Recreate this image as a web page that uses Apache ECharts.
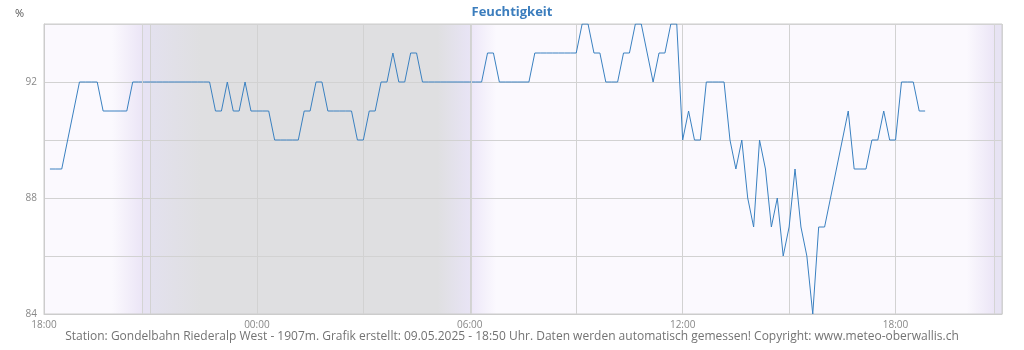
<!DOCTYPE html>
<html><head><meta charset="utf-8">
<script src="https://cdn.jsdelivr.net/npm/echarts@6/dist/echarts.min.js"></script>
<style>html,body{margin:0;padding:0;background:#fff}#c{width:1024px;height:350px}</style>
</head><body><div id="c"></div>
<script>
// ---- data ----
const titleText = 'Feuchtigkeit';
const unitText = '%';
const footerText = 'Station: Gondelbahn Riederalp West - 1907m. Grafik erstellt: 09.05.2025 - 18:50 Uhr. Daten werden automatisch gemessen! Copyright: www.meteo-oberwallis.ch';
// axis: minutes since 08.05.2025 18:00
const axisStartHour = 18;
const axisMinMin = 0, axisMaxMin = 1620; // 18:00 .. 21:00 next day
const sampleStartMin = 10;  // first sample 18:10
const sampleStepMin = 10;   // 10-minute samples
const humidity = [
  89,89,89,90,91,92,92,92,92,91, 91,91,91,91,92,92,92,92,92,92,
  92,92,92,92,92,92,92,92,91,91, 92,91,91,92,91,91,91,91,90,90,
  90,90,90,91,91,92,92,91,91,91, 91,91,90,90,91,91,92,92,93,92,
  92,93,93,92,92,92,92,92,92,92, 92,92,92,92,93,93,92,92,92,92,
  92,92,93,93,93,93,93,93,93,93, 94,94,93,93,92,92,92,93,93,94,
  94,93,92,93,93,94,94,90,91,90, 90,92,92,92,92,90,89,90,88,87,
  90,89,87,88,86,87,89,87,86,84, 87,87,88,89,90,91,89,89,89,90,
  90,91,90,90,92,92,92,91,91
];
const yTickValues = [84, 88, 92];
// background (minutes since 18:00)
const eveningFade1 = [115, 166];   // 19:55 - 20:46
const eveningLav1 = [166, 180];    // 20:46 - 21:00
const night = [180, 720];          // 21:00 - 06:00
const nightFade = [180, 265];      // 21:00 - 22:25
const dawnFade = [665, 720];       // 05:05 - 06:00
const morningFade = [720, 765];    // 06:00 - 06:45
const eveningFade2 = [1560, 1607]; // 20:00 - 20:47
const eveningLav2 = [1607, 1620];  // 20:47 - 21:00
const sunLines = [166, 722, 1607];

const dayCol = '#fbf9fe', lavCol = '#ebe5f6', lav2Col = '#e7e3f3', greyCol = '#dfdfe1';

const lineData = humidity.map((v, i) => [sampleStartMin + i * sampleStepMin, v]);

function grad(a, b) {
  return new echarts.graphic.LinearGradient(0, 0, 1, 0, [{offset: 0, color: a}, {offset: 1, color: b}]);
}
function area(r, color) { return [{xAxis: r[0], itemStyle: {color: color}}, {xAxis: r[1]}]; }

const chart = echarts.init(document.getElementById('c'), null, {renderer: 'canvas'});
chart.setOption({
  animation: false,
  backgroundColor: '#ffffff',
  title: [
    {text: titleText, left: 'center', top: 1, textStyle: {fontFamily: 'Open Sans', fontSize: 13, fontWeight: 'bold', color: '#3b7dbd'}},
    {text: unitText, left: 10, top: 3, textStyle: {fontFamily: 'Open Sans', fontSize: 11, fontWeight: 'normal', color: '#555'}},
    {text: footerText, left: 'center', bottom: 2, textStyle: {fontFamily: 'Open Sans', fontSize: 12, fontWeight: 'normal', color: '#737373'}}
  ],
  grid: {left: 44, right: 22, top: 24, bottom: 36, show: true, z: 2, backgroundColor: 'transparent', borderColor: '#cccccc', borderWidth: 1},
  xAxis: {
    type: 'value', min: axisMinMin, max: axisMaxMin, interval: 180, z: 2,
    axisLine: {show: true, lineStyle: {color: '#cccccc'}},
    axisTick: {show: false},
    splitLine: {show: true, lineStyle: {color: '#d2d2d2', width: 1}},
    axisLabel: {
      fontFamily: 'Open Sans', fontSize: 10, color: '#888', margin: 6, showMaxLabel: false,
      formatter: function (v) {
        if (v % 360 !== 0) return '';
        const h = (axisStartHour + v / 60) % 24;
        return (h < 10 ? '0' : '') + h + ':00';
      }
    }
  },
  yAxis: {
    type: 'value', min: 84, max: 94, interval: 2, z: 2,
    axisLine: {show: true, lineStyle: {color: '#cccccc'}},
    axisTick: {show: false},
    splitLine: {show: true, lineStyle: {color: '#d2d2d2', width: 1}},
    axisLabel: {
      fontFamily: 'Open Sans', fontSize: 10, color: '#888', margin: 7,
      formatter: function (v) { return yTickValues.indexOf(v) >= 0 ? String(v) : ''; }
    }
  },
  series: [
    {
      type: 'line', z: 1, data: [], silent: true,
      markArea: {
        silent: true,
        data: [
          area([axisMinMin, axisMaxMin], dayCol),
          area(eveningFade1, grad(dayCol, lavCol)),
          area(eveningLav1, lav2Col),
          area(night, greyCol),
          area(nightFade, grad('#e3e1ee', greyCol)),
          area(dawnFade, grad(greyCol, '#e8e4f5')),
          area(morningFade, grad('#ece6f8', dayCol)),
          area(eveningFade2, grad(dayCol, lavCol)),
          area(eveningLav2, lav2Col)
        ]
      },
      markLine: {
        silent: true, symbol: ['none', 'none'], label: {show: false},
        lineStyle: {color: '#d4d4d4', type: 'solid', width: 1},
        data: sunLines.map(v => ({xAxis: v}))
      }
    },
    {
      type: 'line', z: 3, data: lineData, showSymbol: false, symbol: 'none',
      lineStyle: {color: '#3a80c0', width: 1}, itemStyle: {color: '#3a80c0'}
    }
  ]
});
</script></body></html>
